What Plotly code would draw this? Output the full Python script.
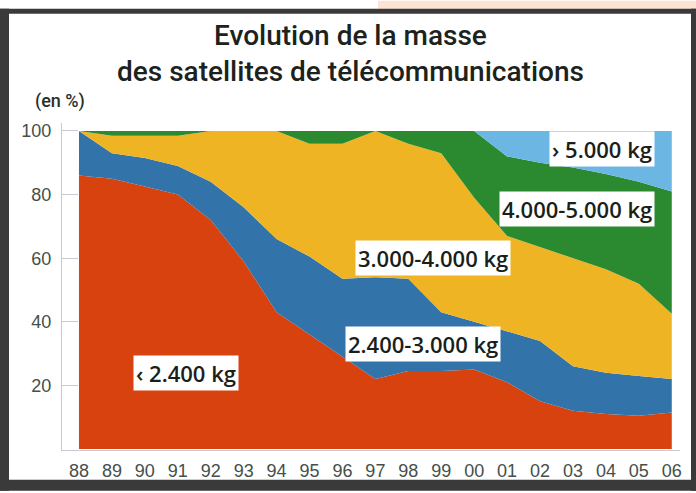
import plotly.graph_objects as go

# Years (two-digit labels) and share of satellites per mass class, in %
years = ["88", "89", "90", "91", "92", "93", "94", "95", "96", "97",
         "98", "99", "00", "01", "02", "03", "04", "05", "06"]

under_2400 = [86, 85, 82.5, 80, 72, 59, 43, 36, 29, 22,
              24.5, 24.5, 25, 21, 15, 12, 11, 10.5, 11.5]
from_2400_to_3000 = [14, 8, 9, 9, 12, 17, 23, 24.5, 24.5, 32,
                     29, 18.5, 15, 16, 19, 14, 13, 12.5, 10.5]
from_3000_to_4000 = [0, 5.5, 7, 9.5, 16, 24, 34, 35.5, 42.5, 46,
                     42.5, 50, 39, 30, 29.5, 34, 32.5, 29, 20.5]
from_4000_to_5000 = [0, 1.5, 1.5, 1.5, 0, 0, 0, 4, 4, 0,
                     4, 7, 21, 25, 26.5, 28.5, 30, 32, 38.5]
over_5000 = [0, 0, 0, 0, 0, 0, 0, 0, 0, 0,
             0, 0, 0, 8, 10, 11.5, 13.5, 16, 19]

series_names = ["‹ 2.400 kg", "2.400-3.000 kg", "3.000-4.000 kg",
                "4.000-5.000 kg", "› 5.000 kg"]
series_values = [under_2400, from_2400_to_3000, from_3000_to_4000,
                 from_4000_to_5000, over_5000]
series_colors = ["#d8420f", "#3273aa", "#eeb424", "#2b8a2f", "#6cb6e4"]

y_ticks = [20, 40, 60, 80, 100]

W, H = 696, 493
L, R, T, B = 62, 16, 123, 41
PW, PH = W - L - R, H - T - B


def px_x(px):
    return (px - L) / PW


def px_y(py):
    return (H - B - py) / PH


fig = go.Figure()
for name, vals, col in zip(series_names, series_values, series_colors):
    fig.add_trace(go.Scatter(
        x=years, y=vals, name=name, stackgroup="mass", mode="lines",
        line=dict(width=0, color=col), fillcolor=col, hoverinfo="skip",
    ))

label_font = dict(family="Open Sans, Roboto, sans-serif", size=22,
                  color="#1a1f1a", weight=600)
# in-chart labels: (text, x in category units, y in %)
labels = [
    (series_names[0], 3.25, 23.8),
    (series_names[1], 10.46, 33.0),
    (series_names[2], 10.75, 60.0),
    (series_names[3], 15.12, 75.6),
    (series_names[4], 15.89, 94.4),
]
for txt, lx, ly in labels:
    fig.add_annotation(x=lx, y=ly, xref="x", yref="y", text=txt,
                       showarrow=False, bgcolor="white", borderpad=2,
                       font=label_font)

title_font = dict(family="Roboto, sans-serif", size=28, color="#1c231c",
                  weight=500)
fig.add_annotation(x=px_x(350), y=px_y(35), xref="paper", yref="paper",
                   text="Evolution de la masse", showarrow=False,
                   xanchor="center", yanchor="middle", font=title_font)
fig.add_annotation(x=px_x(350), y=px_y(71), xref="paper", yref="paper",
                   text="des satellites de télécommunications", showarrow=False,
                   xanchor="center", yanchor="middle", font=title_font)
fig.add_annotation(x=px_x(33), y=px_y(101), xref="paper", yref="paper",
                   text="(en %)", showarrow=False, xanchor="left",
                   yanchor="middle",
                   font=dict(family="Roboto, sans-serif", size=18,
                             color="#2a2f2a", weight=500))

# frame around the figure and the small tinted strip at the top right
frame = "#3a3a3a"
shapes = [
    dict(x0=378, x1=W, y0=0, y1=8, color="#fde3d3"),
    dict(x0=0, x1=W, y0=8, y1=13, color=frame),
    dict(x0=0, x1=9, y0=8, y1=H, color=frame),
    dict(x0=W - 5, x1=W, y0=8, y1=H, color=frame),
    dict(x0=0, x1=W, y0=H - 11, y1=H, color=frame),
]
for s in shapes:
    fig.add_shape(type="rect", xref="paper", yref="paper",
                  x0=px_x(s["x0"]), x1=px_x(s["x1"]),
                  y0=px_y(s["y1"]), y1=px_y(s["y0"]),
                  fillcolor=s["color"], line=dict(width=0), layer="above")

axis_col = "#c9c9d4"
tick_font = dict(family="Liberation Sans, Arial, sans-serif", size=18,
                 color="#44504a")
fig.update_xaxes(type="category", range=[-0.516, 18.25], showgrid=False,
                 zeroline=False, showline=True, linecolor=axis_col,
                 linewidth=1, ticks="", tickfont=tick_font,
                 ticklabelstandoff=4)
fig.update_yaxes(range=[-0.3, 102.5], tickvals=y_ticks, showgrid=False,
                 zeroline=False, showline=True, linecolor=axis_col,
                 linewidth=1, ticks="inside", ticklen=16, tickcolor=axis_col,
                 tickwidth=1, tickfont=tick_font, ticklabelstandoff=6)

fig.update_layout(
    width=W, height=H,
    margin=dict(l=L, r=R, t=T, b=B),
    paper_bgcolor="white", plot_bgcolor="white",
    showlegend=False,
)

fig.write_html("out.html")
